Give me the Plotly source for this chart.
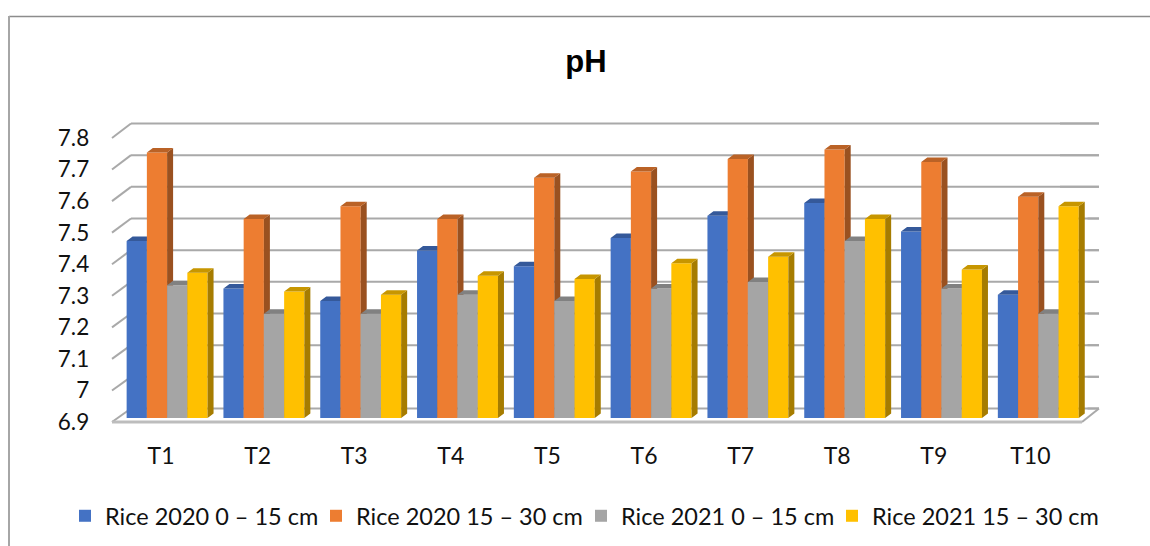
import plotly.graph_objects as go

W, H = 1150, 546
categories = ["T1", "T2", "T3", "T4", "T5", "T6", "T7", "T8", "T9", "T10"]
series_names = ["Rice 2020 0 – 15 cm", "Rice 2020 15 – 30 cm", "Rice 2021 0 – 15 cm", "Rice 2021 15 – 30 cm"]
rice_2020_0_15 = [7.46, 7.31, 7.27, 7.43, 7.38, 7.47, 7.54, 7.58, 7.49, 7.29]
rice_2020_15_30 = [7.74, 7.53, 7.57, 7.53, 7.66, 7.68, 7.72, 7.75, 7.71, 7.60]
rice_2021_0_15 = [7.32, 7.23, 7.23, 7.29, 7.27, 7.31, 7.33, 7.46, 7.31, 7.23]
rice_2021_15_30 = [7.36, 7.30, 7.29, 7.35, 7.34, 7.39, 7.41, 7.53, 7.37, 7.57]
y_ticks = [6.9, 7, 7.1, 7.2, 7.3, 7.4, 7.5, 7.6, 7.7, 7.8]
y_labels = ["6.9", "7", "7.1", "7.2", "7.3", "7.4", "7.5", "7.6", "7.7", "7.8"]
front_colors = ["#4472C4", "#ED7D31", "#A5A5A5", "#FFC000"]
top_colors = ["#35599A", "#BA6226", "#818181", "#C79600"]
side_colors = ["#2A4778", "#9A5120", "#6B6B6B", "#A67C00"]
values = [rice_2020_0_15, rice_2020_15_30, rice_2021_0_15, rice_2021_15_30]
legend_left_px = [65, 316, 581, 832]

YMIN, YMAX = 6.9, 7.8
BAR_W = 0.209


def dx(a, b):
    return [a / W, b / W]


def dy(bottom, top):
    return [1 - bottom / H, 1 - top / H]


fig = go.Figure()
FONT = "Lato, Carlito, sans-serif"
TXT = "#111111"

# front plane (tick labels)
fig.add_trace(go.Scatter(x=[0], y=[YMIN], mode="markers", marker=dict(opacity=0), showlegend=False,
                         hoverinfo="skip", xaxis="x2", yaxis="y2"))

bar_x_domain = dx(118.7, 1086.7)
bar_y_domain = dy(418, 133.6)
step_px = (1086.7 - 118.7) / len(categories)
unit_px = (418 - 133.6) / (YMAX - YMIN)
ddx = 6 / step_px
ddy = 4.5 / unit_px

layout_axes = {}
legends = {}
for s, (name, vals) in enumerate(zip(series_names, values)):
    n = s + 3
    legend_id = "legend" if s == 0 else f"legend{s + 1}"
    xs = [i + (s - 1.5) * BAR_W for i in range(len(categories))]
    fig.add_trace(go.Bar(x=xs, y=[v - YMIN for v in vals], base=YMIN, width=BAR_W, name=name,
                         marker=dict(color=front_colors[s], line=dict(width=0)), legend=legend_id,
                         xaxis=f"x{n}", yaxis=f"y{n}"))
    side_x, side_y, top_x, top_y = [], [], [], []
    for x, v in zip(xs, vals):
        l, r = x - BAR_W / 2, x + BAR_W / 2
        side_x += [r, r + ddx, r + ddx, r, r, None]
        side_y += [YMIN, YMIN + ddy, v + ddy, v, YMIN, None]
        top_x += [l, l + ddx, r + ddx, r, l, None]
        top_y += [v, v + ddy, v + ddy, v, v, None]
    for px_, py_, col in ((side_x, side_y, side_colors[s]), (top_x, top_y, top_colors[s])):
        fig.add_trace(go.Scatter(x=px_, y=py_, mode="lines", fill="toself", fillcolor=col,
                                 line=dict(width=0, color=col), showlegend=False, hoverinfo="skip",
                                 xaxis=f"x{n}", yaxis=f"y{n}"))
    layout_axes[f"xaxis{n}"] = dict(domain=bar_x_domain, range=[-0.5, 9.5], visible=False, anchor=f"y{n}")
    layout_axes[f"yaxis{n}"] = dict(domain=bar_y_domain, range=[YMIN, YMAX], visible=False, anchor=f"x{n}")
    legends[legend_id] = dict(orientation="h", x=legend_left_px[s] / W, xanchor="left", y=1 - 516 / H,
                              yanchor="middle", itemwidth=30, font=dict(family=FONT, size=23.5, color=TXT),
                              bgcolor="rgba(0,0,0,0)")

# decoration: back-wall gridlines, floor, slanted wall ticks and outer frame, placed in page pixels
shapes = []
LINE = "#A9A9A9"


def paper_line(x0, y0, x1, y1, color=LINE, width=2, layer="below"):
    return dict(type="line", xref="paper", yref="paper", x0=x0 / W, x1=x1 / W, y0=1 - y0 / H, y1=1 - y1 / H,
                line=dict(color=color, width=width), layer=layer)


FRONT_Y0, FRONT_Y1 = 422, 138
BACK_Y0, BACK_Y1 = 408.5, 123.5
last_bar_top_px = 418 - (max(v[-1] for v in values[2:]) - YMIN) * unit_px - 4.5
for t in y_ticks:
    f = (t - YMIN) / (YMAX - YMIN)
    yf = FRONT_Y0 + (FRONT_Y1 - FRONT_Y0) * f
    yb = BACK_Y0 + (BACK_Y1 - BACK_Y0) * f
    shapes.append(paper_line(112, yf, 131, yb))
    shapes.append(paper_line(131, yb, 1099, yb))
    # the right-hand end of each gridline; it starts past the last bar where that bar would be crossed
    start = 1060 if yb < last_bar_top_px else 1087.5
    shapes.append(paper_line(start, yb, 1099, yb, layer="above"))
shapes.append(paper_line(1099, 408.5, 1082, 422))
shapes.append(paper_line(112, 422, 1082, 422, color="#BDBDBD", width=3))
shapes.append(paper_line(9, 16.5, 1150, 16.5, color="#8C8C8C", width=1.5))
shapes.append(paper_line(9, 16, 9, 546, color="#A6A6A6", width=2))

fig.update_layout(
    width=W, height=H, margin=dict(l=0, r=0, t=0, b=0, autoexpand=False), autosize=False,
    paper_bgcolor="white", plot_bgcolor="rgba(0,0,0,0)",
    font=dict(family=FONT, size=23, color=TXT),
    barmode="overlay", showlegend=True, shapes=shapes,
    title=dict(text="<b>pH</b>", x=586 / W, xanchor="center", y=1 - 61 / H, yanchor="middle",
               font=dict(family="Liberation Sans, Arial, sans-serif", size=31, color="#000000")),
    xaxis2=dict(domain=dx(112.7, 1078.7), range=[-0.5, 9.5], tickvals=list(range(10)), ticktext=categories,
                showgrid=False, zeroline=False, showline=False, ticks="outside", ticklen=13,
                tickcolor="rgba(0,0,0,0)", anchor="y2", tickfont=dict(family=FONT, size=23, color=TXT)),
    yaxis2=dict(domain=dy(422, 138), range=[YMIN, YMAX], tickvals=y_ticks, ticktext=y_labels,
                showgrid=False, zeroline=False, showline=False, ticks="outside", ticklen=18,
                tickcolor="rgba(0,0,0,0)", anchor="x2", tickfont=dict(family=FONT, size=22.5, color=TXT)),
    **legends,
    **layout_axes,
)

fig.write_html("out.html", config={"displayModeBar": False},
               post_script="document.body.style.margin='0';document.body.style.overflow='hidden';")
